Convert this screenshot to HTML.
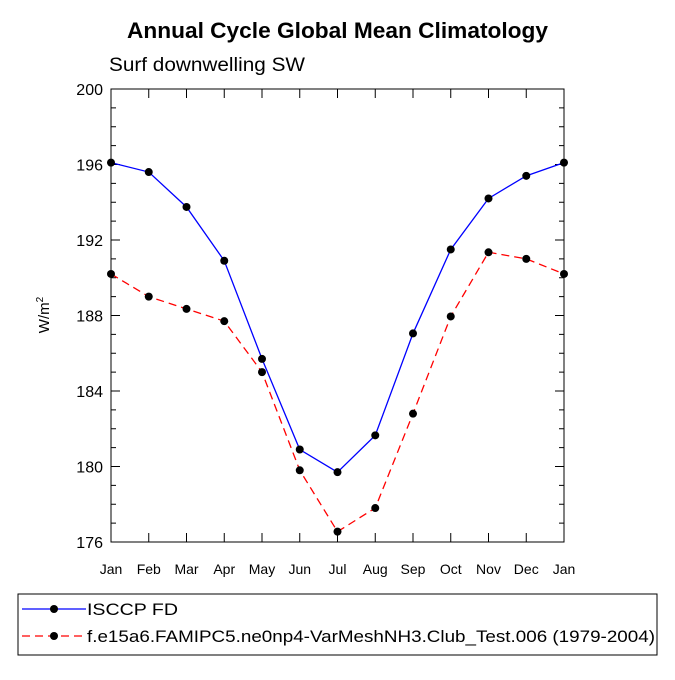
<!DOCTYPE html>
<html><head><meta charset="utf-8"><style>
body{margin:0;background:#fff;font-family:"Liberation Sans",sans-serif}
</style></head><body>
<svg id="chart" width="675" height="675" xmlns="http://www.w3.org/2000/svg" font-family="Liberation Sans, sans-serif">
<text x="127" y="38" font-size="22" font-weight="bold" textLength="421" lengthAdjust="spacingAndGlyphs">Annual Cycle Global Mean Climatology</text>
<text x="109" y="71" font-size="19" textLength="196" lengthAdjust="spacingAndGlyphs">Surf downwelling SW</text>
<text transform="translate(49,315) rotate(-90)" text-anchor="middle" font-size="15">W/m<tspan dy="-6" font-size="10">2</tspan></text>
<g id="axes"></g>
<g id="series"></g>
<rect x="18" y="594" width="639" height="61" fill="none" stroke="#000" stroke-width="1"/>
<g id="legend"></g>
</svg>
<script>
const months=["Jan","Feb","Mar","Apr","May","Jun","Jul","Aug","Sep","Oct","Nov","Dec","Jan"];
const isccp=[196.1,195.6,193.75,190.9,185.7,180.9,179.7,181.65,187.05,191.5,194.2,195.4,196.1];
const model=[190.2,189.0,188.35,187.7,185.0,179.8,176.55,177.8,182.8,187.95,191.35,191.0,190.2];
const yTicks=[176,180,184,188,192,196,200];
const seriesNames=["ISCCP FD","f.e15a6.FAMIPC5.ne0np4-VarMeshNH3.Club_Test.006 (1979-2004)"];
const L=111,R=564,T=89,B=542,ymin=176,ymax=200;
const xs=i=>L+(R-L)*i/(months.length-1);
const ys=v=>B-(B-T)*(v-ymin)/(ymax-ymin);
const NS="http://www.w3.org/2000/svg";
function mk(tag,attrs,parent){const e=document.createElementNS(NS,tag);for(const k in attrs)e.setAttribute(k,attrs[k]);parent.appendChild(e);return e;}
const ax=document.getElementById('axes');
const frame=mk('rect',{x:L,y:T,width:R-L,height:B-T,fill:'none',stroke:'#000','stroke-width':1},ax);


for(let v=ymin;v<=ymax;v++){const y=ys(v);const maj=yTicks.includes(v);const len=maj?9:5;
 mk('line',{x1:L,x2:L+len,y1:y,y2:y,stroke:'#000'},ax);mk('line',{x1:R,x2:R-len,y1:y,y2:y,stroke:'#000'},ax);}
yTicks.forEach(v=>{const t=mk('text',{x:L-8,y:ys(v)+6,'text-anchor':'end','font-size':16},ax);t.textContent=v;
 
 });
months.forEach((m,i)=>{const x=xs(i);mk('line',{x1:x,x2:x,y1:B,y2:B-9,stroke:'#000'},ax);mk('line',{x1:x,x2:x,y1:T,y2:T+9,stroke:'#000'},ax);
 const t=mk('text',{x:x,y:B+32,'text-anchor':'middle','font-size':14},ax);t.textContent=m;
 
 });
const sg=document.getElementById('series');
function draw(vals,color,dash,name){const g=mk('g',{},sg);
 
 
 mk('polyline',{points:vals.map((v,i)=>xs(i)+','+ys(v)).join(' '),fill:'none',stroke:color,'stroke-width':1.3,'stroke-dasharray':dash},g);
 vals.forEach((v,i)=>{const c=mk('circle',{cx:xs(i),cy:ys(v),r:4,fill:'#000'},g);
  
  });}
draw(isccp,'#0000ff','none','isccp-series');
draw(model,'#ff0000','8,5','model-series');
const lg=document.getElementById('legend');
const lens=[91,568];
[[ '#0000ff','none',609],['#ff0000','8,5',636]].forEach((s,i)=>{const g=mk('g',{},lg);
 
 
 mk('line',{x1:22,x2:86,y1:s[2],y2:s[2],stroke:s[0],'stroke-width':1.3,'stroke-dasharray':s[1]},g);
 mk('circle',{cx:54,cy:s[2],r:4,fill:'#000'},g);
 const t=mk('text',{x:87,y:s[2]+6,'font-size':17,textLength:lens[i],lengthAdjust:'spacingAndGlyphs'},g);t.textContent=seriesNames[i];});
</script>
</body></html>
